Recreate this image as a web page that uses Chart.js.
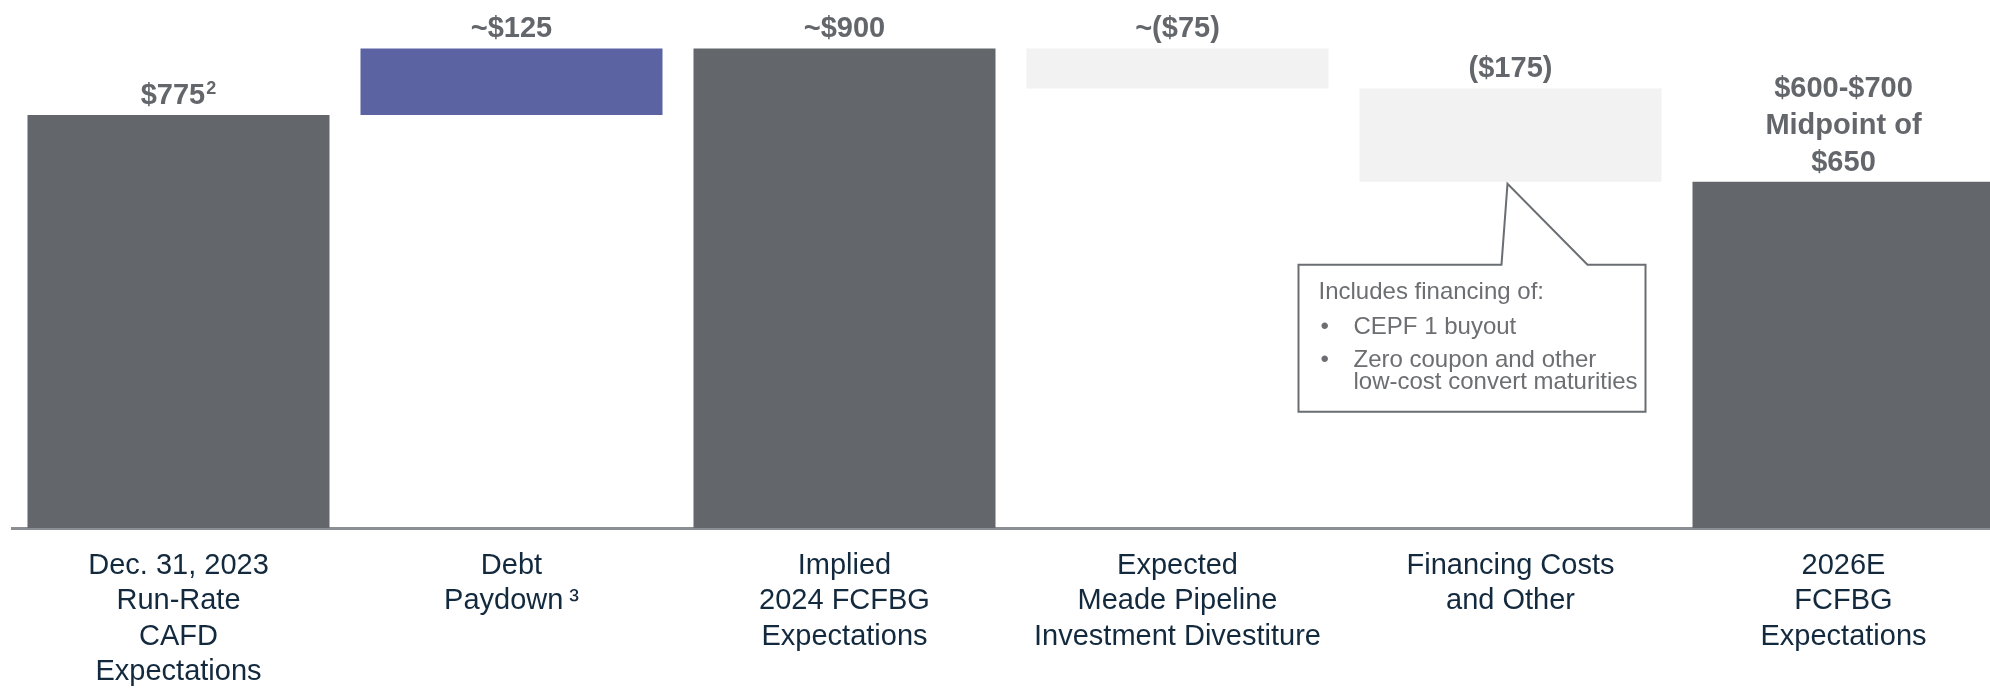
<!DOCTYPE html>
<html>
<head>
<meta charset="utf-8">
<style>
  html, body { margin: 0; padding: 0; background: #fff; overflow: hidden; }
  #wrap { width: 2010px; height: 688px; position: relative; }
</style>
</head>
<body>
<div id="wrap">
  <canvas id="bridgeChart"></canvas>
</div>

<script src="https://cdn.jsdelivr.net/npm/chart.js"></script>
<script>
// chart data
const categories = [
  ['Dec. 31, 2023', 'Run-Rate', 'CAFD', 'Expectations'],
  ['Debt', 'Paydown\u2009\u00b3'],
  ['Implied', '2024 FCFBG', 'Expectations'],
  ['Expected', 'Meade Pipeline', 'Investment Divestiture'],
  ['Financing Costs', 'and Other'],
  ['2026E', 'FCFBG', 'Expectations']
];
const stepValues = [775, 125, 900, -75, -175, 650];
const stepKinds = ['total', 'delta', 'total', 'delta', 'delta', 'total'];
const valueLabels = [
  ['$775'],
  ['~$125'],
  ['~$900'],
  ['~($75)'],
  ['($175)'],
  ['$600-$700', 'Midpoint of', '$650']
];
const labelNotes = ['2', '', '', '', '', ''];
const calloutLines = ['Includes financing of:', 'CEPF 1 buyout', 'Zero coupon and other', 'low-cost convert maturities'];

const barColors = ['#63676b', '#5c63a3', '#63676b', '#f2f2f2', '#f2f2f2', '#63676b'];
const FONT = "'Liberation Sans', Arial, Helvetica, sans-serif";

// build floating ranges for the waterfall
function buildRanges() {
  let running = 0;
  return stepValues.map((v, i) => {
    if (stepKinds[i] === 'total') {
      running = v;
      return [0, v];
    }
    const start = running;
    running = running + v;
    return [Math.min(start, running), Math.max(start, running)];
  });
}

const valueLabelPlugin = {
  id: 'valueLabels',
  afterDatasetsDraw(chart) {
    const ctx = chart.ctx;
    const meta = chart.getDatasetMeta(0);
    ctx.save();
    ctx.fillStyle = '#63666a';
    ctx.textAlign = 'left';
    ctx.textBaseline = 'middle';
    meta.data.forEach((bar, i) => {
      const top = Math.min(bar.y, bar.base);
      const lines = valueLabels[i];
      lines.forEach((line, j) => {
        const y = top - 19 - (lines.length - 1 - j) * 37;
        ctx.font = 'bold 29px ' + FONT;
        const w = ctx.measureText(line).width;
        let noteW = 0;
        const note = j === lines.length - 1 ? labelNotes[i] : '';
        if (note) {
          ctx.font = 'bold 18px ' + FONT;
          noteW = ctx.measureText(note).width + 1;
        }
        const x0 = bar.x - (w + noteW) / 2;
        ctx.font = 'bold 29px ' + FONT;
        ctx.fillText(line, x0, y);
        if (note) {
          ctx.font = 'bold 18px ' + FONT;
          ctx.fillText(note, x0 + w + 1, y - 7);
        }
      });
    });
    ctx.restore();
  }
};

const calloutPlugin = {
  id: 'callout',
  afterDraw(chart) {
    const ctx = chart.ctx;
    const bar = chart.getDatasetMeta(0).data[4];
    const ax = bar.x - 3;
    const ay = Math.max(bar.y, bar.base) + 2;
    const left = ax - 209, right = ax + 138, top = ay + 81, bottom = ay + 228;
    ctx.save();
    ctx.strokeStyle = '#6a6e72';
    ctx.lineWidth = 2;
    ctx.lineJoin = 'miter';
    ctx.beginPath();
    ctx.moveTo(ax - 6, top);
    ctx.lineTo(left, top);
    ctx.lineTo(left, bottom);
    ctx.lineTo(right, bottom);
    ctx.lineTo(right, top);
    ctx.lineTo(ax + 80, top);
    ctx.lineTo(ax, ay);
    ctx.closePath();
    ctx.fillStyle = '#ffffff';
    ctx.fill();
    ctx.stroke();

    ctx.fillStyle = '#6d6e71';
    ctx.font = '24px ' + FONT;
    ctx.textBaseline = 'middle';
    ctx.textAlign = 'left';
    ctx.fillText(calloutLines[0], left + 20, top + 28);
    ctx.fillText('\u2022', left + 22, top + 63);
    ctx.fillText(calloutLines[1], left + 55, top + 63);
    ctx.fillText('\u2022', left + 22, top + 96);
    ctx.fillText(calloutLines[2], left + 55, top + 96);
    ctx.fillText(calloutLines[3], left + 55, top + 118);
    ctx.restore();
  }
};

const ctx = document.getElementById('bridgeChart').getContext('2d');
new Chart(ctx, {
  type: 'bar',
  data: {
    labels: categories,
    datasets: [{
      data: buildRanges(),
      backgroundColor: barColors,
      borderWidth: 0,
      categoryPercentage: 1,
      barPercentage: 0.907
    }]
  },
  options: {
    responsive: true,
    maintainAspectRatio: false,
    animation: false,
    layout: { padding: { left: 12, right: 0, top: 0, bottom: 0 } },
    plugins: {
      legend: { display: false },
      tooltip: { enabled: false }
    },
    scales: {
      x: {
        grid: { display: false, drawTicks: false },
        border: { display: true, color: '#8b8f93', width: 3 },
        ticks: {
          color: '#13293d',
          padding: 20,
          maxRotation: 0,
          autoSkip: false,
          font: { family: FONT, size: 29, lineHeight: 1.224 }
        },
        afterFit(scale) { scale.height = 160; }
      },
      y: {
        display: false,
        min: 0,
        max: 991
      }
    }
  },
  plugins: [valueLabelPlugin, calloutPlugin]
});
</script>
</body>
</html>
